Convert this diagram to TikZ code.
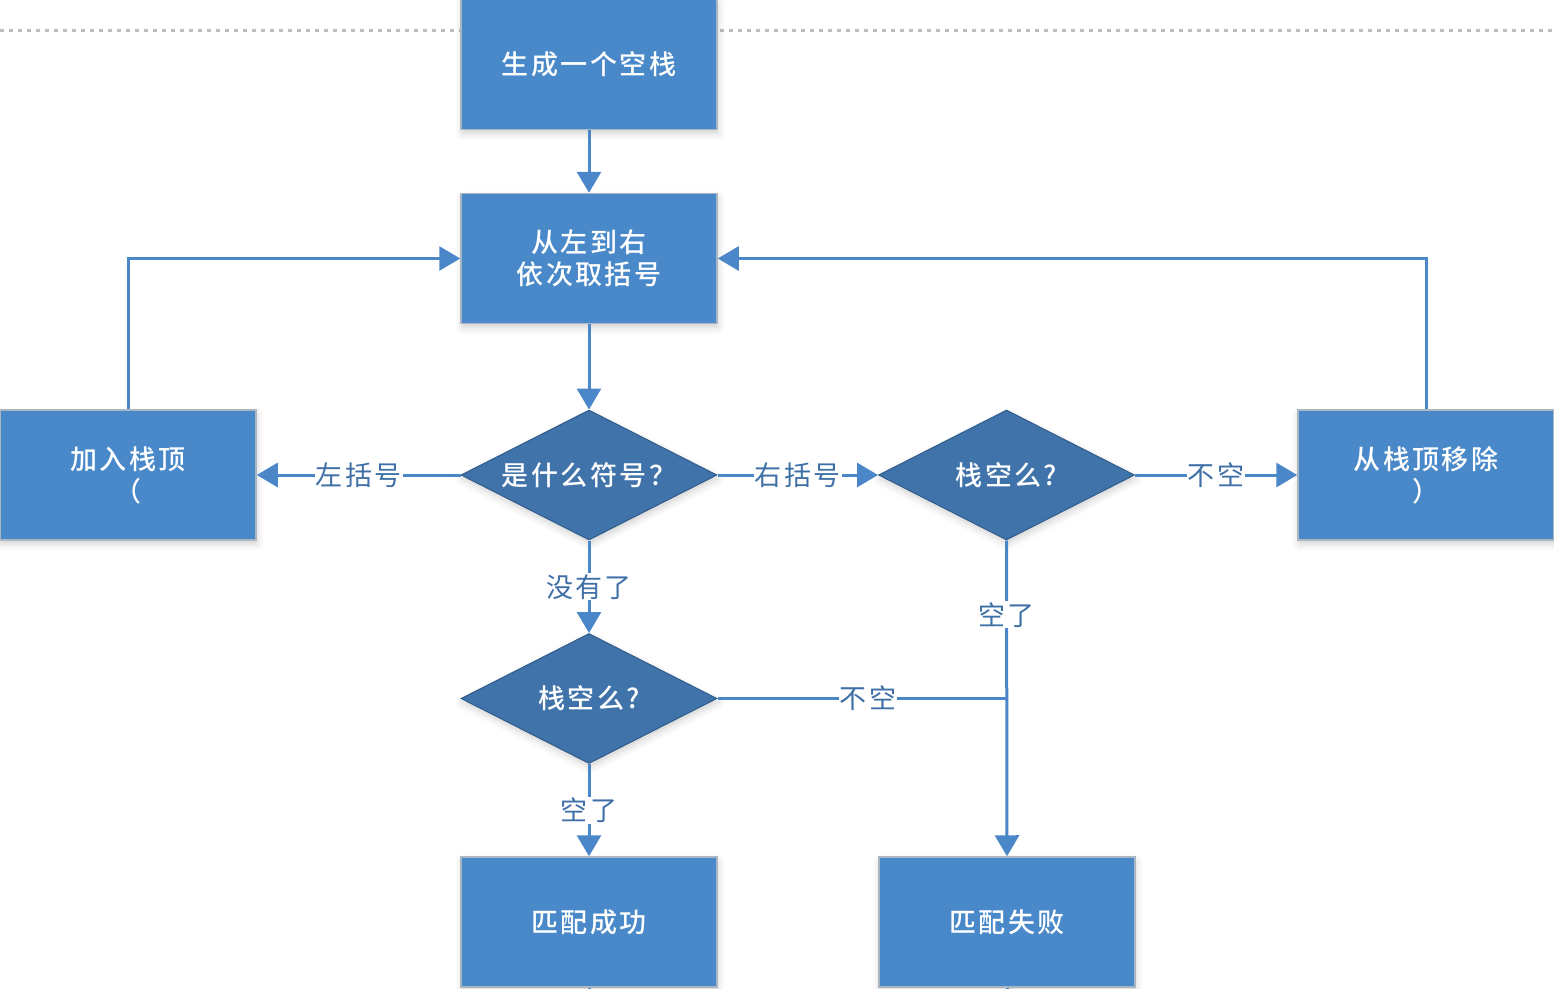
\documentclass[tikz,border=0pt]{standalone}
\usepackage{fontspec}
\newfontfamily\cjk[LetterSpace=9]{Noto Sans CJK SC}
\newfontfamily\cjkmed[LetterSpace=9]{Noto Sans CJK SC Medium}
\usetikzlibrary{shapes.geometric,arrows.meta,shadows.blur}
\definecolor{boxblue}{HTML}{4A89C9}
\definecolor{diablue}{HTML}{3F73AA}
\definecolor{diaedge}{HTML}{2F5C8C}
\definecolor{boxedge}{HTML}{AAB6C2}
\definecolor{linkblue}{HTML}{4A86C8}
\definecolor{labelblue}{HTML}{3E6FA6}
\definecolor{dotgray}{HTML}{BDBDBD}
\begin{document}
\begin{tikzpicture}[x=1pt,y=-1pt,
  softshadow/.style={blur shadow={shadow xshift=1pt, shadow yshift=-4pt, shadow blur radius=7pt, shadow opacity=18}},
  procbox/.style={rectangle, fill=boxblue, draw=boxedge, line width=1.5pt,
    minimum width=256pt, minimum height=130pt, inner sep=0pt, text=white,
    font=\cjkmed\fontsize{27}{32}\selectfont, align=center, softshadow},
  decision/.style={diamond, aspect=2, fill=diablue, draw=diaedge, line width=1pt,
    minimum width=256pt, minimum height=130pt, inner sep=0pt, text=white,
    font=\cjkmed\fontsize{27}{32}\selectfont, softshadow},
  link/.style={draw=linkblue, line width=3pt},
  arr/.style={link, -{Triangle[length=21pt,width=24pt]}},
  lbl/.style={fill=white, text=labelblue, font=\cjk\fontsize{27}{28}\selectfont, inner sep=1pt},
  dotline/.style={draw=dotgray, line width=3pt, dash pattern=on 4pt off 5pt}
]
\useasboundingbox (0,0) rectangle (1554,988);
\draw[dotline] (0,30) -- (1554,30);

\node[procbox] (gen)  at (589,64.5)  {生成一个空栈};
\node[procbox] (take) at (589,258.5) {从左到右\\依次取括号};
\node[decision] (what) at (589,475) {是什么符号？};
\node[procbox] (push) at (128,475) {加入栈顶\\（};
\node[decision] (emp1) at (1006.5,475) {栈空么?};
\node[procbox] (pop)  at (1426,475) {从栈顶移除\\）};
\node[decision] (emp2) at (589,698.5) {栈空么?};
\node[procbox] (ok)   at (589,922) {匹配成功};
\node[procbox] (fail) at (1007,922) {匹配失败};

\coordinate (join) at (emp2.east -| fail.north);
\coordinate (okout) at ([yshift=-12pt]ok.south);
\coordinate (failout) at ([yshift=-12pt]fail.south);

\draw[arr] (gen) -- (take);
\draw[arr] (take) -- (what);
\draw[arr] (what.west) -- node[lbl]{左括号} (push.east);
\draw[arr] (push.north) |- (take.west);
\draw[arr] (what.east) -- node[lbl]{右括号} (emp1.west);
\draw[arr] (emp1.east) -- node[lbl]{不空} (pop.west);
\draw[arr] (pop.north) |- (take.east);
\draw[arr] (what.south) -- node[lbl]{没有了} (emp2.north);
\draw[arr] (emp1.south) -- node[lbl,pos=0.235]{空了} (fail.north);
\draw[link] (emp2.east) -- node[lbl,pos=0.52]{不空} (join);
\draw[arr] (emp2.south) -- node[lbl]{空了} (ok.north);
\draw[link] (ok.south) -- (okout);
\draw[link] (fail.south) -- (failout);
\end{tikzpicture}
\end{document}
